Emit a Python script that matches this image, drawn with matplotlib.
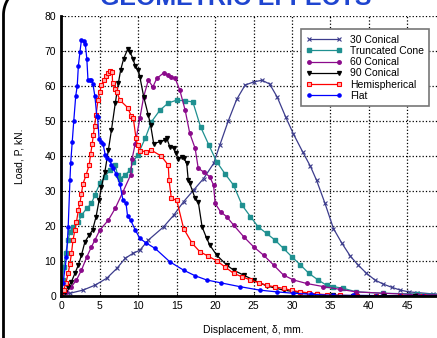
import numpy as np
import matplotlib
matplotlib.use('Agg')
import matplotlib.pyplot as plt
from matplotlib.lines import Line2D

plt.rcParams['font.family'] = ['Liberation Sans', 'DejaVu Sans']

# Load-displacement curves
con30_x = [0, 1.1, 2.8, 4.35, 5.9, 7.2, 8.3, 9.3, 10.2, 11.3, 13.3, 14.6, 15.9, 17.2, 18.5, 19.8,
           20.6, 21.7, 22.8, 23.9, 25.0, 26.1, 27.1, 28.1, 29.2, 30.2, 31.4, 32.4, 33.2, 34.3, 35.4,
           36.5, 37.6, 38.6, 39.7, 40.8, 41.9, 43.0, 44.1, 45.2, 46.3, 48.4, 50]
con30_y = [0, 0.7, 1.6, 3, 5, 7.8, 10.7, 12.1, 13, 15.9, 19.7, 23, 26.9, 30.2, 33.5, 37.8,
           43, 49.9, 56.1, 60.2, 61.1, 61.6, 60.5, 56.7, 51, 46.2, 41.1, 37, 33, 26.4, 19.2,
           15, 11.3, 8.8, 6.4, 4.5, 3.3, 2.4, 1.6, 1.1, 0.9, 0.5, 0.3]

trunc_x = [0, 0.15, 0.3, 0.55, 0.87, 1.1, 1.5, 2.2, 2.6, 3.3, 3.9, 4.35, 5.0, 5.65, 6.3, 7.0, 7.3,
           7.6, 8.3, 8.9, 9.35, 9.9, 10.9, 11.7, 12.8, 13.9, 15.0, 16.1, 17.1, 18.1, 19.2, 20.2,
           21.3, 22.4, 23.5, 24.6, 25.6, 26.7, 27.8, 28.9, 30.0, 31.1, 32.2, 33.4, 34.5, 35.4,
           36.7, 38.4, 41.9, 46.3, 50]
trunc_y = [0, 4.5, 8.3, 12.1, 15.9, 18.3, 19.7, 21.1, 23, 25, 26.4, 28.8, 32.1, 34, 35.9, 37.3, 34.5,
           33.5, 34.5, 35.9, 38.3, 40.2, 45, 49.7, 53, 55.1, 55.9, 55.7, 55.4, 48.3, 43, 38.3,
           34.8, 31.6, 25.9, 22.6, 19.7, 17.8, 15.9, 13.5, 11.1, 8.8, 6.4, 4.5, 3, 2.6,
           2.1, 1.1, 0.7, 0.5, 0.4]

con60_x = [0, 0.65, 1.3, 1.95, 2.6, 3.3, 3.9, 4.35, 5.0, 6.1, 7.0, 8.0, 9.0, 9.2, 9.6, 10.2, 10.7,
           11.3, 11.9, 12.4, 13.3, 13.9, 14.3, 14.8, 15.4, 16.1, 16.7, 17.4, 17.8, 18.5, 19.3,
           19.8, 20.0, 20.7, 21.5, 22.4, 23.7, 25.0, 26.3, 27.6, 28.9, 30.2, 31.9, 34.1, 36.3,
           38.4, 41.9, 46.3, 50]
con60_y = [0, 1.1, 2.6, 4.5, 7.3, 11.1, 14, 15.9, 18.8, 21.6, 25, 29.7, 34.5, 39.2, 43.5, 50.7, 56.9,
           61.6, 59.7, 62.1, 63.7, 63, 62.6, 62.1, 58.8, 53, 46.4, 42.1, 36.4, 35.4, 34,
           31.6, 26.4, 24, 22.6, 20.2, 16.9, 14, 11.6, 8.8, 5.9, 4.5, 3.5, 2.6, 1.8,
           1.1, 0.7, 0.3, 0.2]

con90_x = [0, 0.45, 0.87, 1.3, 1.75, 2.2, 2.6, 3.05, 3.6, 4.05, 4.5, 4.9, 5.2, 5.65, 6.1, 6.5, 7.0,
           7.4, 7.7, 8.1, 8.6, 8.9, 9.3, 9.6, 10.0, 10.2, 10.7, 11.3, 11.6, 12.0, 12.8, 13.5, 13.7,
           14.1, 14.6, 14.9, 15.2, 15.7, 15.9, 16.3, 16.5, 16.7, 17.4, 17.8, 18.3, 18.9, 19.3,
           20.2, 21.5, 22.4, 23.7, 25.0, 26.7, 28.9, 31.1, 33.2, 35.4, 38, 42, 46, 50]
con90_y = [0, 1.1, 2.6, 4, 6.4, 8.8, 11.6, 15.4, 17.3, 18.8, 22.6, 27.3, 31.1, 35.4, 41.6, 47.3, 55,
           60.7, 64.5, 67.8, 70.4, 69.7, 67.8, 65.6, 64.5, 62.6, 56.9, 51.6, 48.8, 43.5, 44, 44.5, 45,
           42.6, 42.1, 40.7, 39.2, 39.7, 39.5, 37.8, 33, 32.1, 27.8, 26.9, 19.7, 16.4, 14.5,
           11.6, 8.8, 7.3, 5.9, 4.5, 2.8, 1.6, 0.9, 0.4, 0.1, 0, 0, 0, 0]

hemi_x = [0, 0.3, 0.55, 0.87, 1.1, 1.3, 1.5, 1.75, 1.95, 2.2, 2.4, 2.6, 2.8, 3.2, 3.6, 3.8, 4.0,
          4.15, 4.3, 4.5, 4.75, 5.0, 5.2, 5.5, 5.8, 6.1, 6.3, 6.6, 6.65, 6.95, 7.2, 7.6, 8.6, 9.1,
          9.35, 9.7, 9.9, 10.2, 11.0, 11.7, 13.0, 13.9, 14.0, 14.3, 15.0, 15.9, 17.0, 18.0, 19.1,
          20.2, 21.3, 22.4, 23.5, 24.6, 25.7, 26.7, 27.8, 28.9, 30.0, 31.1, 32.2, 33.2, 34.5,
          36.3, 38.5, 41, 44, 47, 50]
hemi_y = [0, 1.6, 3.5, 6.4, 9.2, 12.1, 15.9, 18.8, 21.1, 24.5, 26.4, 29.2, 32, 34.5, 37.3, 40.5, 43.5,
          46, 48.5, 51.6, 55.9, 58.3, 60.2, 61.6, 62.8, 63.7, 64.3, 64, 60.7, 59.2, 58.3, 55.9, 53.8, 51.3,
          50.7, 45, 43, 41.4, 41.2, 41.6, 39.9, 37.3, 33, 27.8, 27.3, 19.2, 15, 12.6, 11.3,
          10, 8.2, 6.4, 5.4, 4.5, 3.7, 3, 2.5, 2.1, 1.5, 1.1, 0.8, 0.5, 0.3,
          0.1, 0, 0, 0, 0, 0]

flat_x = [0, 0.2, 0.65, 0.87, 1.1, 1.2, 1.4, 1.6, 1.85, 2.05, 2.2, 2.4, 2.6, 2.9, 3.1, 3.3, 3.45,
          3.7, 3.9, 4.1, 4.35, 4.6, 4.7, 4.9, 5.1, 5.4, 5.7, 5.9, 6.3, 6.5, 6.75, 7.1, 7.6, 8.0,
          8.4, 8.6, 9.0, 9.6, 10.2, 11.0, 12.2, 14.1, 15.9, 17.4, 18.9, 20.7, 23.2, 25.8, 28,
          30.2, 32.5, 35.4, 38, 41, 44, 47, 50]
flat_y = [0, 3.5, 11, 19.5, 33, 38, 44, 50, 57, 60, 65.8, 69.6, 73.2, 72.9, 71.9, 67.7, 61.6,
          61.6, 61.8, 60.4, 57, 51.3, 51, 44.7, 44, 43.5, 40.2, 39.4, 38.8, 37.3, 36.4, 34.8, 32, 27.3,
          26.4, 22.8, 21.6, 18.8, 16.4, 15.1, 13.5, 9.7, 7.3, 5.7, 4.5, 3.7, 2.6, 1.6, 1.1,
          0.7, 0.4, 0.1, 0.1, 0.05, 0, 0, 0]

labels = ['30 Conical', 'Truncated Cone', '60 Conical', '90 Conical', 'Hemispherical', 'Flat']

fig = plt.figure(figsize=(4.37, 3.38), dpi=100)
ax = fig.add_axes([0.1407, 0.1251, 0.879, 0.828])

ax.plot(con30_x, con30_y, color='#3c3c8c', marker='x', ms=3, mew=0.8, lw=0.9, label=labels[0])
ax.plot(trunc_x, trunc_y, color='#1f9090', marker='s', ms=3.2, lw=0.9, label=labels[1])
ax.plot(con60_x, con60_y, color='#8b0a8b', marker='o', ms=2.5, lw=0.9, label=labels[2])
ax.plot(con90_x, con90_y, color='black', marker='v', ms=2.8, lw=0.9, label=labels[3])
ax.plot(hemi_x, hemi_y, color='red', marker='s', ms=3.5, mfc='#ffb0b0', mew=0.8, lw=0.9, label=labels[4])
ax.plot(flat_x, flat_y, color='blue', marker='o', ms=2.3, lw=0.9, label=labels[5])

ax.set_xlim(0, 50)
ax.set_ylim(0, 80)
ax.set_xticks(np.arange(0, 50, 5))
ax.set_yticks(np.arange(0, 90, 10))
ax.grid(True, color='black', linestyle=':', linewidth=0.9)
ax.tick_params(labelsize=7.5, direction='in', length=2.5, width=0.6, pad=4)

for s in ['top', 'right']:
    ax.spines[s].set_visible(False)
for s in ['left', 'bottom']:
    ax.spines[s].set_linewidth(2)

ax.set_xlabel('Displacement, δ, mm.', fontsize=7.5, labelpad=10)
ax.set_ylabel('Load, P, kN.', fontsize=7.5, labelpad=14)

leg = ax.legend(loc='upper left', bbox_to_anchor=(0.61, 0.97), fontsize=7.5,
                numpoints=2, handlelength=3.4, labelspacing=0.12, borderpad=0.5,
                fancybox=False, framealpha=1, edgecolor='#777777')
leg.get_frame().set_linewidth(1.2)

# title sits mostly above the visible area, as in the reference
fig.text(0.54, 1 - 5 / 338, 'GEOMETRIC EFFECTS', color='#1f45d0', fontsize=18,
         fontweight='bold', ha='center', va='baseline')

# rounded frame on the left edge
t = np.linspace(np.pi, np.pi / 2, 30)
r = 30
bx = [3.5] + list(33.5 + r * np.cos(t)) + [33.5 + r]
by = [340] + list(15 - r * np.sin(t)) + [-15]
fig.add_artist(Line2D([v / 437 for v in bx], [1 - v / 338 for v in by],
                      transform=fig.transFigure, color='black', lw=2))

fig.savefig('out.png', dpi=100)
